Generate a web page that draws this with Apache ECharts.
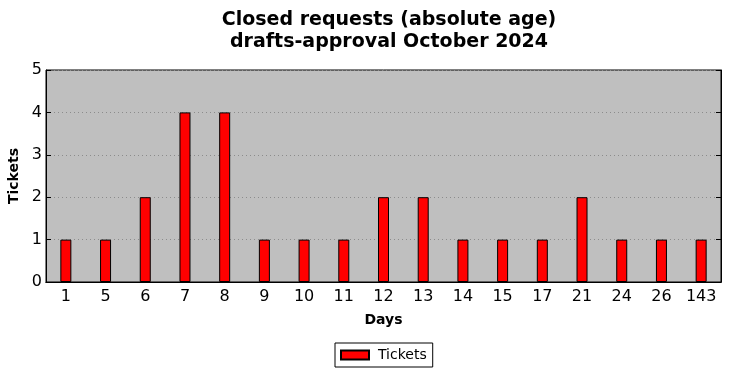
<!DOCTYPE html>
<html>
<head>
    <meta charset="UTF-8">
    <title>Closed requests</title>
    <script src="https://cdn.jsdelivr.net/npm/echarts@6/dist/echarts.min.js"></script>
    <style>
        html, body { margin: 0; padding: 0; background: #fff; }
        #chartContainer { width: 731px; height: 378px; }
    </style>
</head>
<body>
<div id="chartContainer"></div>
<script>
    // data
    var days = ['1', '5', '6', '7', '8', '9', '10', '11', '12', '13', '14', '15', '17', '21', '24', '26', '143'];
    var tickets = [1, 1, 2, 4, 4, 1, 1, 1, 2, 2, 1, 1, 1, 2, 1, 1, 1];
    var yTicks = [0, 1, 2, 3, 4, 5];

    var font = 'DejaVu Sans';
    var myChart = echarts.init(document.getElementById('chartContainer'));

    var option = {
        backgroundColor: '#ffffff',
        animation: false,
        title: {
            text: 'Closed requests (absolute age)\ndrafts-approval October 2024',
            left: 384,
            textAlign: 'center',
            top: 4,
            textStyle: {
                fontFamily: font,
                fontWeight: 'bold',
                fontSize: 19,
                lineHeight: 22,
                color: '#000'
            }
        },
        legend: {
            top: 343,
            left: 335,
            itemWidth: 28,
            itemHeight: 9,
            itemGap: 5,
            icon: 'rect',
            padding: [5, 6, 5, 5],
            borderColor: '#000',
            borderWidth: 1,
            borderRadius: 0,
            textStyle: { fontFamily: font, fontSize: 14, color: '#000', padding: [0, 0, 0, 4] },
            data: ['Tickets']
        },
        grid: {
            left: 46,
            right: 10,
            top: 70,
            bottom: 96,
            outerBoundsMode: 'none',
            show: true,
            backgroundColor: '#bfbfbf',
            borderColor: '#000',
            borderWidth: 1
        },
        xAxis: [{
            type: 'category',
            data: days,
            name: 'Days',
            nameLocation: 'middle',
            nameGap: 31,
            nameTextStyle: { fontFamily: font, fontWeight: 'bold', fontSize: 14, color: '#000' },
            axisLine: { lineStyle: { color: '#000' } },
            axisTick: { inside: true, alignWithLabel: true, length: 5, lineStyle: { color: '#000' } },
            axisLabel: { fontFamily: font, fontSize: 16, color: '#000', margin: 7, interval: 0 },
            splitLine: { show: false }
        }, {
            type: 'category',
            data: days,
            position: 'top',
            axisLine: { lineStyle: { color: '#000' } },
            axisTick: { inside: true, alignWithLabel: true, length: 5, lineStyle: { color: '#000' } },
            axisLabel: { show: false }
        }],
        yAxis: [{
            type: 'value',
            min: 0,
            max: 5,
            interval: 1,
            name: 'Tickets',
            nameLocation: 'middle',
            nameGap: 19,
            nameTextStyle: { fontFamily: font, fontWeight: 'bold', fontSize: 14, color: '#000' },
            axisLine: { show: true, lineStyle: { color: '#000' } },
            axisTick: { show: true, inside: true, length: 5, lineStyle: { color: '#000' } },
            axisLabel: {
                fontFamily: font, fontSize: 16, color: '#000', margin: 4,
                formatter: function (v) { return yTicks.indexOf(v) >= 0 ? String(v) : ''; }
            },
            splitLine: { show: true, lineStyle: { color: '#8c8c8c', type: [1, 3], width: 1 } }
        }, {
            type: 'value',
            min: 0,
            max: 5,
            interval: 1,
            position: 'right',
            axisLine: { show: true, lineStyle: { color: '#000' } },
            axisTick: { show: true, inside: true, length: 5, lineStyle: { color: '#000' } },
            axisLabel: { show: false },
            splitLine: { show: false }
        }],
        series: [{
            name: 'Tickets',
            type: 'bar',
            data: tickets,
            barWidth: 11,
            itemStyle: { color: '#ff0000', borderColor: '#000', borderWidth: 1, borderRadius: 0 }
        }]
    };
    myChart.setOption(option);
</script>
</body>
</html>
